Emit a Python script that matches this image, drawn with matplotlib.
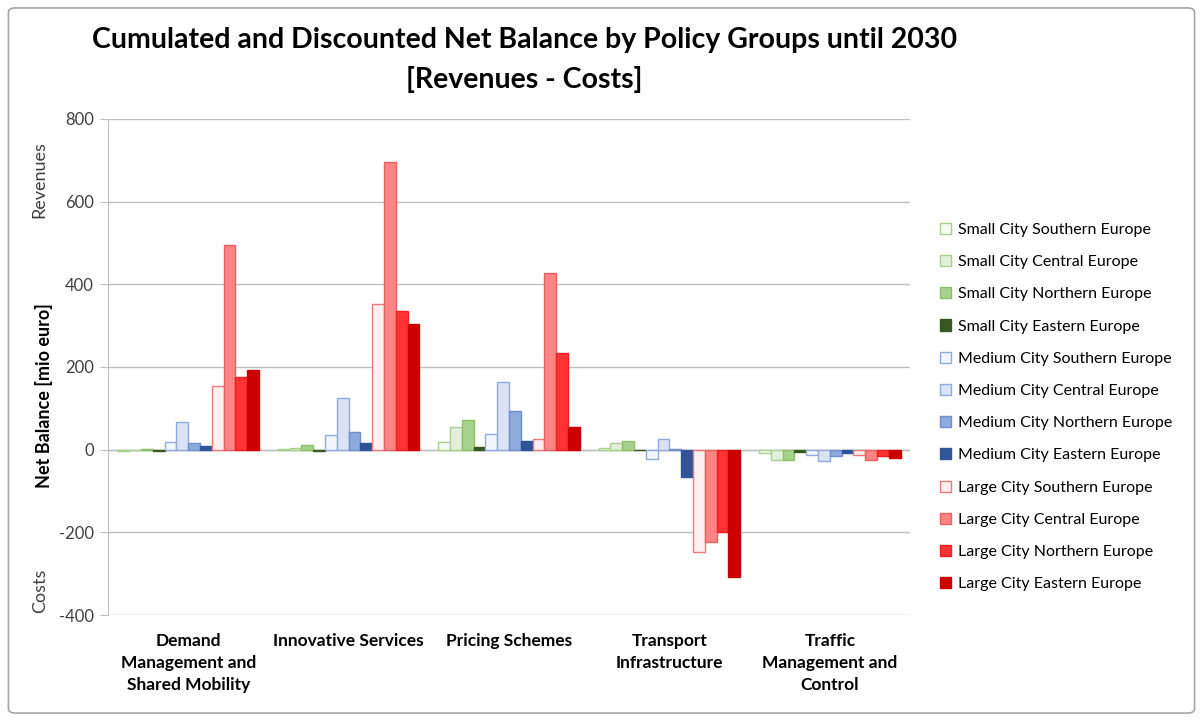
import numpy as np
import matplotlib
matplotlib.use('Agg')
import matplotlib.pyplot as plt
from matplotlib.patches import FancyBboxPatch, Patch

plt.rcParams['font.family'] = ['Lato', 'DejaVu Sans']
plt.rcParams['axes.unicode_minus'] = False

# Data (mio euro)
categories = ['Demand\nManagement and\nShared Mobility', 'Innovative Services',
              'Pricing Schemes', 'Transport\nInfrastructure',
              'Traffic\nManagement and\nControl']
series_names = ['Small City Southern Europe', 'Small City Central Europe',
                'Small City Northern Europe', 'Small City Eastern Europe',
                'Medium City Southern Europe', 'Medium City Central Europe',
                'Medium City Northern Europe', 'Medium City Eastern Europe',
                'Large City Southern Europe', 'Large City Central Europe',
                'Large City Northern Europe', 'Large City Eastern Europe']
small_south = [-3, 2, 19, 3, -7]
small_central = [-2, 4, 55, 15, -24]
small_north = [2, 11, 71, 22, -24]
small_east = [-3, -3, 7, -2, -5]
medium_south = [19, 36, 39, -23, -13]
medium_central = [67, 126, 164, 25, -27]
medium_north = [15, 42, 93, 2, -16]
medium_east = [8, 15, 20, -65, -9]
large_south = [155, 353, 25, -247, -13]
large_central = [495, 697, 428, -224, -26]
large_north = [176, 335, 233, -200, -15]
large_east = [192, 303, 55, -309, -21]

values = [small_south, small_central, small_north, small_east,
          medium_south, medium_central, medium_north, medium_east,
          large_south, large_central, large_north, large_east]

fills = ['#F7FBF3', '#E2EFDA', '#A9D18E', '#385723',
         '#F2F6FC', '#DAE3F3', '#8FAADC', '#2F5597',
         '#FFF0F0', '#FF8585', '#FF3333', '#CC0000']
edges = ['#A9D18E', '#A9D18E', '#8CBF68', '#385723',
         '#8FAADC', '#8FAADC', '#6F8FCF', '#2F5597',
         '#F07878', '#E86060', '#F02020', '#CC0000']

fig = plt.figure(figsize=(12.03, 7.21), dpi=100)
ax = fig.add_axes([0.0898, 0.147, 0.6667, 0.688])

x = np.arange(len(categories))
n = len(values)
w = 0.0736
for i in range(n):
    ax.bar(x + (i - (n - 1) / 2) * w, values[i], width=w,
           color=fills[i], edgecolor=edges[i], linewidth=1.0, zorder=3)

ax.set_xlim(-0.5, len(categories) - 0.5)
ax.set_ylim(-400, 800)
ax.set_yticks(np.arange(-400, 801, 200))
ax.yaxis.grid(True, color='#BFBFBF', linewidth=1.0, zorder=0)
ax.axhline(0, color='#BFBFBF', linewidth=1.0, zorder=2)
for s in ['top', 'right', 'bottom']:
    ax.spines[s].set_visible(False)
ax.spines['left'].set_color('#BFBFBF')
ax.tick_params(axis='y', colors='#BFBFBF', length=6, labelsize=12,
               labelcolor='#404040', pad=4)
ax.set_xticks(x)
ax.set_xticklabels(categories, fontsize=12.5, fontweight='bold',
                   linespacing=1.45, va='top')
ax.tick_params(axis='x', length=0, pad=13)

# axis labels
ax.text(-0.08, 0.443, 'Net Balance [mio euro]', transform=ax.transAxes,
        rotation=90, ha='center', va='center', fontsize=13,
        fontweight='bold')
ax.text(-0.085, 0.877, 'Revenues', transform=ax.transAxes, rotation=90,
        ha='center', va='center', fontsize=13, color='#404040')
ax.text(-0.085, 0.048, 'Costs', transform=ax.transAxes, rotation=90,
        ha='center', va='center', fontsize=13, color='#404040')

# title
fig.text(0.436, 0.944, 'Cumulated and Discounted Net Balance by Policy Groups until 2030',
         ha='center', va='center', fontsize=20.5, fontweight='bold')
fig.text(0.436, 0.89, '[Revenues - Costs]', ha='center', va='center',
         fontsize=20.5, fontweight='bold')

# legend
handles = [Patch(facecolor=fills[i], edgecolor=edges[i], linewidth=1.0)
           for i in range(n)]
fig.legend(handles, series_names, loc='upper left',
           bbox_to_anchor=(0.776, 0.7), frameon=False, fontsize=11.5,
           handlelength=0.7, handleheight=0.7, handletextpad=0.45,
           labelspacing=1.13, borderaxespad=0)

# outer border
border = FancyBboxPatch((0.007, 0.011), 0.986, 0.978,
                        boxstyle='round,pad=0,rounding_size=0.006',
                        transform=fig.transFigure, facecolor='none',
                        edgecolor='#A6A6A6', linewidth=1.2)
fig.patches.append(border)

fig.savefig('out.png', dpi=100)
